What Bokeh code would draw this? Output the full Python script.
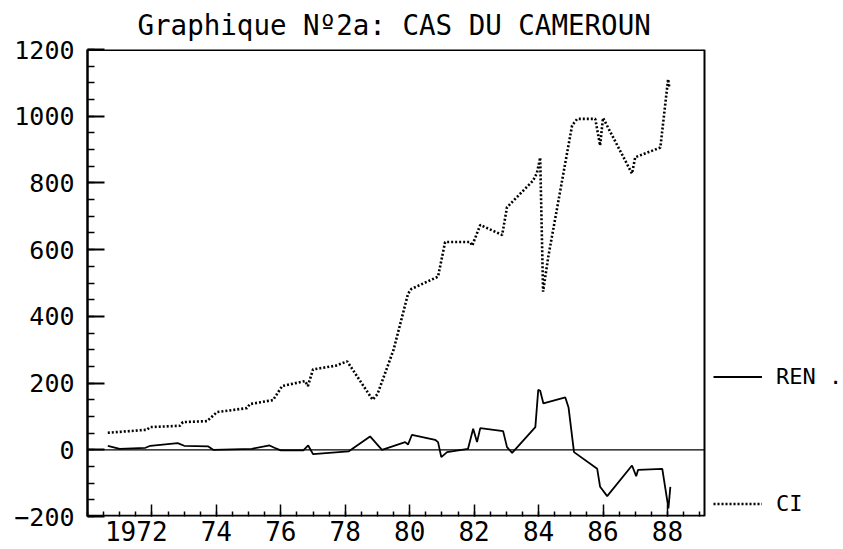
from bokeh.plotting import figure
from bokeh.models import FixedTicker, Legend, LegendItem, Range1d
from bokeh.embed import file_html
from bokeh.resources import INLINE

# ---------------- data ----------------
title_text = "Graphique Nº2a: CAS DU CAMEROUN"

ci_year = [1970.63, 1971.84, 1971.94, 1972.87, 1972.96, 1973.71, 1974.02, 1974.95,
           1975.04, 1975.76, 1976.04, 1976.75, 1976.84, 1977.0, 1977.7, 1978.06,
           1978.85, 1979.0, 1979.5, 1979.95, 1980.05, 1980.88, 1981.1, 1981.88,
           1981.94, 1982.19, 1982.87, 1983.02, 1983.83, 1983.95, 1984.05, 1984.14,
           1984.3, 1985.04, 1985.2, 1985.76, 1985.91, 1986.0, 1986.9, 1987.0,
           1987.78, 1988.02, 1988.06]
ci_val = [51, 60, 68, 72, 83, 86, 113, 125,
          137, 149, 191, 206, 191, 241, 252, 265,
          150, 167, 300, 468, 482, 519, 623, 623,
          612, 674, 644, 727, 807, 830, 876, 474,
          578, 972, 992, 992, 912, 995, 828, 877,
          906, 1111, 1085]

ren_year = [1970.63, 1971.0, 1971.8, 1971.95, 1972.8, 1973.0, 1973.75, 1973.9,
            1975.1, 1975.65, 1975.8, 1976.0, 1976.7, 1976.85, 1977.0, 1978.1,
            1978.77, 1979.14, 1979.86, 1979.95, 1980.07, 1980.79, 1980.88, 1980.98,
            1981.16, 1981.81, 1981.97, 1982.09, 1982.19, 1982.9, 1983.02, 1983.18,
            1983.9, 1983.99, 1984.05, 1984.15, 1984.83, 1984.93, 1985.1, 1985.82,
            1985.91, 1986.13, 1986.9, 1987.03, 1987.09, 1987.84, 1988.0, 1988.03,
            1988.09]
ren_val = [12, 3, 6, 12, 20, 12, 10, 0,
           3, 13, 6, -2, -2, 13, -13, -5,
           40, 0, 23, 16, 45, 30, 23, -22,
           -7, 3, 63, 23, 65, 56, 8, -9,
           68, 180, 177, 139, 157, 127, -7, -57,
           -111, -139, -47, -79, -60, -57, -156, -176,
           -111]

x_ticks = [1972, 1974, 1976, 1978, 1980, 1982, 1984, 1986, 1988]
x_labels = ["1972", "74", "76", "78", "80", "82", "84", "86", "88"]
x_minor = [1970 + 0.5 * i for i in range(39)]
y_ticks = [-200, 0, 200, 400, 600, 800, 1000, 1200]
y_minor = list(range(-200, 1201, 50))
x_min, x_max = 1970.0, 1989.15
y_min, y_max = -200, 1200

FONT = "DejaVu Sans Mono"

# ---------------- layout ----------------
W, H = 843, 549
BOX_L, BOX_R, BOX_T, BOX_B = 87, 704, 49, 518   # plotting box in pixels
# the Bokeh frame runs to the right edge so that the legend (outside the box) is visible
x_view_max = x_min + (x_max - x_min) * (W - BOX_L) / (BOX_R - BOX_L)

p = figure(width=W, height=H, output_backend="svg", toolbar_location=None,
           x_range=Range1d(x_min, x_view_max), y_range=Range1d(y_min, y_max),
           min_border_left=BOX_L, min_border_right=0, min_border_top=BOX_T,
           min_border_bottom=H - BOX_B, title=title_text)
p.background_fill_color = "white"
p.border_fill_color = "white"
p.grid.visible = False
p.outline_line_color = None

p.title.text_font = FONT
p.title.text_font_size = "27.5px"
p.title.text_font_style = "normal"
p.title.text_color = "black"
p.title.align = "left"
p.title.vertical_align = "top"
p.title.offset = 50
p.title.standoff = 14

# y axis
ya = p.yaxis[0]
ya.ticker = FixedTicker(ticks=y_ticks, minor_ticks=y_minor)
ya.axis_line_width = 2.5
ya.major_tick_in = 17
ya.major_tick_out = 0
ya.minor_tick_in = 7
ya.minor_tick_out = 0
ya.major_tick_line_width = 2
ya.minor_tick_line_width = 1.5
ya.major_label_text_font = FONT
ya.major_label_text_font_size = "25px"
ya.major_label_text_color = "black"
ya.major_label_standoff = 13

# x axis
xa = p.xaxis[0]
xa.ticker = FixedTicker(ticks=x_ticks, minor_ticks=x_minor)
xa.axis_line_color = None
xa.major_tick_in = 12
xa.major_tick_out = 0
xa.minor_tick_in = 5
xa.minor_tick_out = 0
xa.major_tick_line_width = 1.5
xa.minor_tick_line_width = 1.5
xa.major_label_overrides = {t: (lab + "\u00a0\u00a0" if len(lab) == 4 else lab)
                            for t, lab in zip(x_ticks, x_labels)}
xa.major_label_text_font = FONT
xa.major_label_text_font_size = "26px"
xa.major_label_text_color = "black"
xa.major_label_standoff = 0

# box edges (bottom, top, right) and zero line
p.line([x_min, x_max], [y_min, y_min], line_color="black", line_width=3.6)
p.line([x_min, x_max], [y_max, y_max], line_color="black", line_width=3.0)
p.line([x_max, x_max], [y_min, y_max], line_color="black", line_width=2.0)
p.line([x_min, x_max], [0, 0], line_color="black", line_width=1.3)

# series
ren = p.line(ren_year, ren_val, line_color="black", line_width=1.8)
ci = p.line(ci_year, ci_val, line_color="black", line_width=2.6, line_dash="2 2")

# legend, to the right of the box
lg = Legend(items=[LegendItem(label="REN .", renderers=[ren]),
                   LegendItem(label="CI", renderers=[ci])],
            location=(626, -2))
lg.glyph_width = 49
lg.glyph_height = 29
lg.label_height = 29
lg.label_standoff = 14
lg.padding = 0
lg.margin = 0
lg.spacing = 98
lg.border_line_color = None
lg.background_fill_alpha = 0
lg.label_text_font = FONT
lg.label_text_font_size = "22px"
lg.label_text_color = "black"
p.add_layout(lg)

open("out.html", "w").write(file_html(p, INLINE))
